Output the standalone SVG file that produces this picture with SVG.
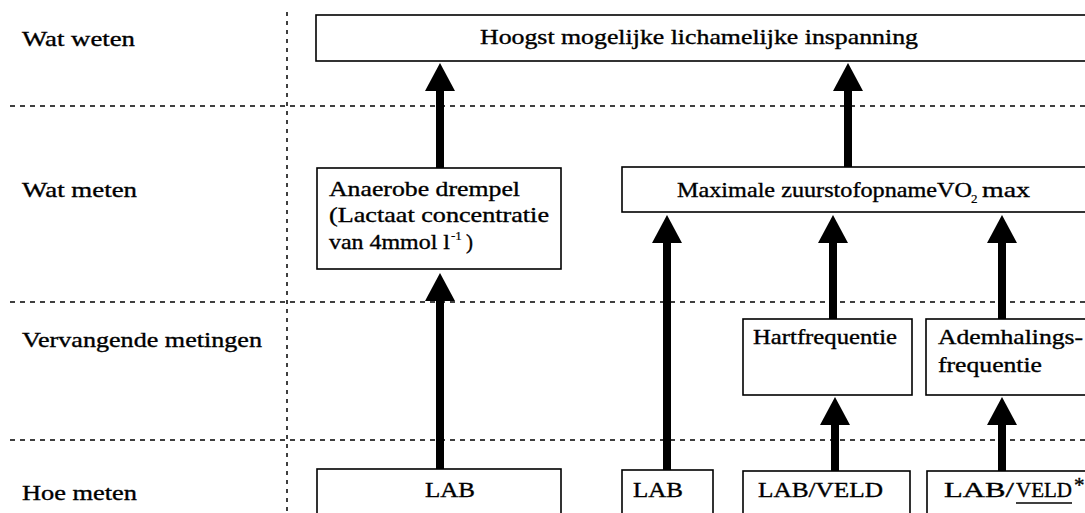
<svg xmlns="http://www.w3.org/2000/svg" width="1085" height="513" viewBox="0 0 1085 513">
<style>
text{font-family:"Liberation Serif","Times New Roman",serif;font-size:21px;fill:#000;stroke:#000;stroke-width:0.35}
.sup{font-size:13px;stroke-width:0.2}
.box{fill:#fff;stroke:#000;stroke-width:1.6}
.grid{stroke:#000;stroke-width:1.5;stroke-dasharray:5 5;fill:none}
.vgrid{stroke:#000;stroke-width:1.5;stroke-dasharray:4 5;fill:none}
.arr{stroke:#000;stroke-width:8;fill:none;marker-end:url(#ah)}
</style>
<defs>
<marker id="ah" viewBox="0 0 28 30" markerWidth="28" markerHeight="30" markerUnits="userSpaceOnUse" refX="1" refY="15" orient="auto">
<path d="M0,0 L28,15 L0,30 Z" fill="#000"/>
</marker>
</defs>
<rect width="1085" height="513" fill="#fff"/>
<g id="grid">
<line class="grid" x1="10" y1="106" x2="1085" y2="106"/>
<line class="grid" x1="10" y1="302" x2="1085" y2="302"/>
<line class="grid" x1="10" y1="440" x2="1085" y2="440"/>
<line class="vgrid" x1="287" y1="12" x2="287" y2="513"/>
</g>
<g id="row-labels">
<text x="22" y="46" textLength="113" lengthAdjust="spacingAndGlyphs">Wat weten</text>
<text x="22" y="197" textLength="115" lengthAdjust="spacingAndGlyphs">Wat meten</text>
<text x="22" y="347" textLength="240" lengthAdjust="spacingAndGlyphs">Vervangende metingen</text>
<text x="22" y="500" textLength="115" lengthAdjust="spacingAndGlyphs">Hoe meten</text>
</g>
<g id="connectors">
<line class="arr" x1="440" y1="168" x2="440" y2="90"/>
<line class="arr" x1="848" y1="167" x2="848" y2="90"/>
<line class="arr" x1="440" y1="469" x2="440" y2="300"/>
<line class="arr" x1="667" y1="470" x2="667" y2="242"/>
<line class="arr" x1="833" y1="320" x2="833" y2="242"/>
<line class="arr" x1="1002" y1="320" x2="1002" y2="242"/>
<line class="arr" x1="835" y1="471" x2="835" y2="424"/>
<line class="arr" x1="1002" y1="471" x2="1002" y2="424"/>
</g>
<g id="node-top">
<rect class="box" x="316" y="15" width="780" height="46"/>
<text x="480" y="44" textLength="438" lengthAdjust="spacingAndGlyphs">Hoogst mogelijke lichamelijke inspanning</text>
</g>
<g id="node-anaerobe">
<rect class="box" x="317" y="168" width="244" height="101"/>
<text x="329" y="196" textLength="191" lengthAdjust="spacingAndGlyphs">Anaerobe drempel</text>
<text x="329" y="222" textLength="220" lengthAdjust="spacingAndGlyphs">(Lactaat concentratie</text>
<text x="329" y="249" textLength="121" lengthAdjust="spacingAndGlyphs">van 4mmol l</text>
<text class="sup" x="451" y="240">-1</text>
<text x="466" y="249">)</text>
</g>
<g id="node-vo2">
<rect class="box" x="622" y="167" width="480" height="45"/>
<text x="677" y="197" textLength="295" lengthAdjust="spacingAndGlyphs">Maximale zuurstofopnameVO</text>
<text class="sup" x="971" y="203">2</text>
<text x="982" y="197" textLength="48" lengthAdjust="spacingAndGlyphs">max</text>
</g>
<g id="node-hart">
<rect class="box" x="743" y="319" width="169" height="76"/>
<text x="753" y="344" textLength="144" lengthAdjust="spacingAndGlyphs">Hartfrequentie</text>
</g>
<g id="node-adem">
<rect class="box" x="926" y="319" width="180" height="76"/>
<text x="938" y="344" textLength="145" lengthAdjust="spacingAndGlyphs">Ademhalings-</text>
<text x="938" y="372" textLength="104" lengthAdjust="spacingAndGlyphs">frequentie</text>
</g>
<g id="node-lab1">
<rect class="box" x="317" y="469" width="244" height="60"/>
<text x="425" y="497" textLength="50" lengthAdjust="spacingAndGlyphs">LAB</text>
</g>
<g id="node-lab2">
<rect class="box" x="622" y="470" width="91" height="60"/>
<text x="633" y="497" textLength="50" lengthAdjust="spacingAndGlyphs">LAB</text>
</g>
<g id="node-labveld">
<rect class="box" x="743" y="471" width="167" height="60"/>
<text x="758" y="497" textLength="125" lengthAdjust="spacingAndGlyphs">LAB/VELD</text>
</g>
<g id="node-labveld2">
<rect class="box" x="927" y="471" width="180" height="60"/>
<text x="944" y="497" textLength="70" lengthAdjust="spacingAndGlyphs">LAB/</text>
<text x="1016" y="497" textLength="56" lengthAdjust="spacingAndGlyphs">VELD</text>
<text x="1074" y="492" font-size="15">*</text>
<line x1="1016" y1="503" x2="1072" y2="503" stroke="#000" stroke-width="1.5"/>
</g>
</svg>
